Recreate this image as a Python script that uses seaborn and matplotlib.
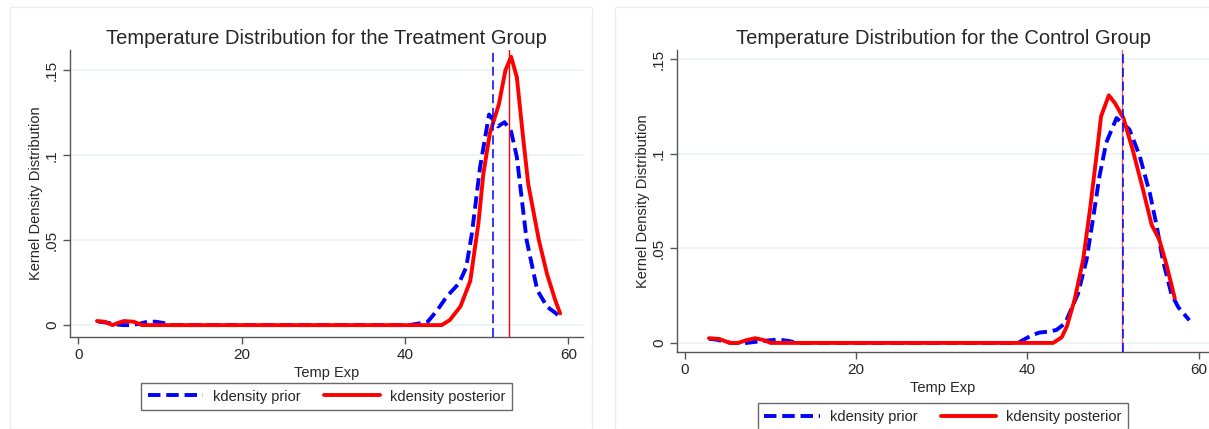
import numpy as np
import pandas as pd
import matplotlib
matplotlib.use('Agg')
import matplotlib.pyplot as plt
import seaborn as sns

sns.set_style('white')
plt.rcParams['font.family'] = ['Liberation Sans', 'DejaVu Sans']

# treatment group, kernel density
treat_prior_x = [2.5, 3.5, 4.5, 5.5, 6.5, 7.5, 8.5, 9.5, 10.5, 11.5, 20, 30, 40.5, 41.5, 42.8, 44.0, 45.1, 46.6, 47.5, 48.2, 49.2,
                 50.3, 51.4, 52.2, 53.0, 53.7, 54.9, 56.2, 57.4, 58.2, 59.0]
treat_prior_y = [0.002, 0.0015, 0.0005, 0.0, 0.0, 0.0008, 0.002, 0.002, 0.0012, 0.0, 0.0, 0.0, 0.0, 0.0008, 0.002, 0.009, 0.0167,
                 0.0245, 0.034, 0.054, 0.093, 0.124, 0.117, 0.1195, 0.114, 0.099, 0.05, 0.0206, 0.0108, 0.008, 0.0049]
treat_post_x = [2.3, 3.2, 4.2, 5.0, 5.6, 6.8, 7.8, 10, 20, 30, 40, 44.5, 45.5, 46.8, 48.0, 49.0, 49.6, 50.4, 51.5, 52.3, 53.0,
                53.7, 54.5, 55.1, 56.4, 57.4, 58.4, 59.0]
treat_post_y = [0.0024, 0.002, 0.0, 0.0015, 0.0024, 0.002, 0.0, 0.0, 0.0, 0.0, 0.0, 0.0, 0.003, 0.011, 0.026, 0.060, 0.089,
                0.113, 0.130, 0.150, 0.158, 0.146, 0.109, 0.083, 0.050, 0.030, 0.0147, 0.0069]
treat_prior_mark = 50.8
treat_post_mark = 52.8

# control group
ctrl_prior_x = [2.8, 3.6, 5.4, 7.2, 9.0, 10.9, 12.2, 13.1, 20, 30, 38.9, 39.5, 40.5, 41.4, 42.5, 43.4, 44.4, 45.9, 46.9, 47.7,
                48.4, 49.2, 50.4, 51.9, 53.1, 54.3, 55.1, 55.8, 56.8, 57.6, 58.9]
ctrl_prior_y = [0.0022, 0.0018, 0.0, 0.0, 0.001, 0.0018, 0.001, 0.0, 0.0, 0.0, 0.0, 0.0016, 0.004, 0.0055, 0.006, 0.0069,
                0.0104, 0.026, 0.044, 0.067, 0.088, 0.106, 0.119, 0.113, 0.099, 0.079, 0.0617, 0.044, 0.026, 0.019, 0.012]
ctrl_post_x = [2.8, 4.0, 5.25, 6.2, 7.2, 8.2, 9.2, 10.0, 20, 30, 40, 43.0, 44.0, 44.6, 45.5, 46.5, 47.3, 48.1, 48.6, 49.5,
               50.2, 51.2, 52.3, 53.5, 54.5, 55.4, 56.2, 57.2]
ctrl_post_y = [0.0025, 0.0021, 0.0, 0.0, 0.0015, 0.0025, 0.0015, 0.0, 0.0, 0.0, 0.0, 0.0, 0.003, 0.0087, 0.0228, 0.044, 0.0705,
               0.1005, 0.120, 0.131, 0.127, 0.119, 0.102, 0.081, 0.0625, 0.0546, 0.042, 0.0237]
ctrl_prior_mark = 51.2
ctrl_post_mark = 51.05

x_ticks = [0, 20, 40, 60]
y_ticks = [0, 0.05, 0.1, 0.15]
y_tick_labels = ['0', '.05', '.1', '.15']

W, H = 1209, 429
fig = plt.figure(figsize=(W / 100, H / 100), dpi=100)

# faint graph-region frames like Stata
for (l, r) in [(10, 592), (615, 1215)]:
    fig.patches.append(plt.Rectangle((l / W, 0), (r - l) / W, 1 - 7 / H, transform=fig.transFigure,
                                     fill=False, edgecolor='#eeeeee', linewidth=1))

blue = '#0000ff'
red = '#ff0000'
dash = (0, (3.2, 1.5))


def panel(rect_px, xlim, ylim, title, px, py, qx, qy, mprior, mpost, leg_y, post_vline_color):
    l, r, t, b = rect_px
    ax = fig.add_axes([l / W, 1 - b / H, (r - l) / W, (b - t) / H])
    ax.set_facecolor('white')
    for yv in y_ticks:
        ax.axhline(yv, color='#eaf2f3', linewidth=1.2, zorder=0)
    sns.lineplot(x=px, y=py, ax=ax, color=blue, linewidth=2.8, linestyle=dash, label='kdensity prior',
                 sort=False, estimator=None)
    sns.lineplot(x=qx, y=qy, ax=ax, color=red, linewidth=2.8, label='kdensity posterior',
                 sort=False, estimator=None)
    ax.axvline(mpost, color=post_vline_color, linewidth=1.0, zorder=3)
    ax.axvline(mprior, color=blue, linewidth=1.1, linestyle=(0, (6, 3)), zorder=4)
    ax.set_xlim(*xlim)
    ax.set_ylim(*ylim)
    ax.set_xticks(x_ticks)
    ax.set_yticks(y_ticks)
    ax.set_yticklabels(y_tick_labels, rotation=90, va='center')
    ax.tick_params(axis='both', direction='out', length=5, width=1, color='#555555', labelsize=11, pad=3,
                   left=True, bottom=True)
    for s in ['top', 'right']:
        ax.spines[s].set_visible(False)
    for s in ['left', 'bottom']:
        ax.spines[s].set_color('#555555')
        ax.spines[s].set_linewidth(1.0)
    ax.set_title(title, fontsize=14.5, pad=4)
    ax.set_xlabel('Temp Exp', fontsize=10.5, labelpad=3)
    ax.set_ylabel('Kernel Density Distribution', fontsize=10.5, labelpad=1)
    leg = ax.legend(loc='upper center', bbox_to_anchor=(0.5, leg_y), ncol=2, frameon=True, fancybox=False,
                    fontsize=10.5, handlelength=3.8, handletextpad=0.7, columnspacing=1.6, borderpad=0.45,
                    edgecolor='#444444')
    leg.get_frame().set_linewidth(1.0)
    return ax


panel((70, 583, 50, 337), (-1.0, 61.8), (-0.007, 0.162),
      'Temperature Distribution for the Treatment Group',
      treat_prior_x, treat_prior_y, treat_post_x, treat_post_y,
      treat_prior_mark, treat_post_mark, -0.135, red)

panel((677, 1209, 50, 352), (-0.93, 61.2), (-0.0048, 0.155),
      'Temperature Distribution for the Control Group',
      ctrl_prior_x, ctrl_prior_y, ctrl_post_x, ctrl_post_y,
      ctrl_prior_mark, ctrl_post_mark, -0.145, '#f06060')

fig.savefig('out.png', dpi=100, facecolor='white')
